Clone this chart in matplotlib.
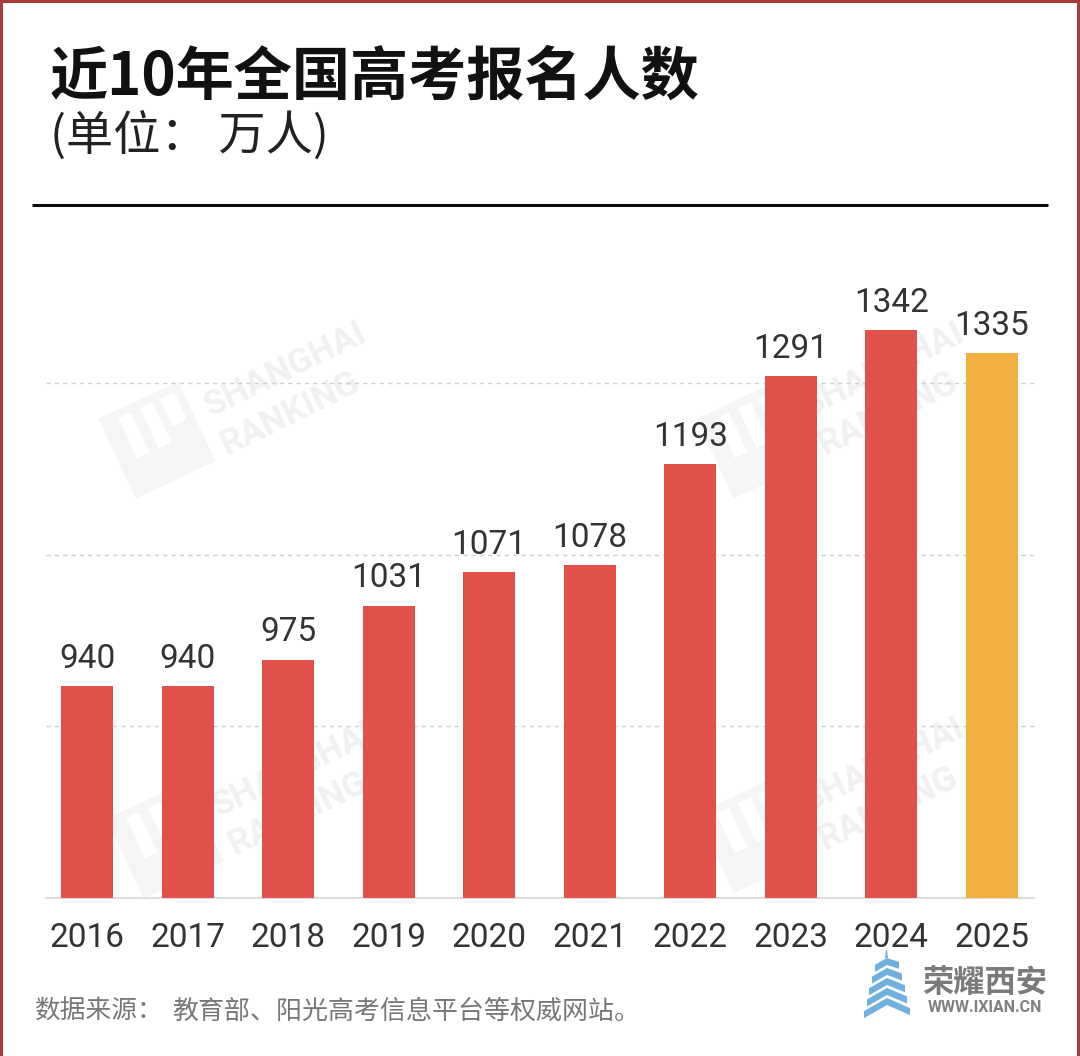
import matplotlib
matplotlib.use("Agg")
import matplotlib.pyplot as plt
from matplotlib.patches import Polygon, Rectangle
from matplotlib.transforms import Affine2D
import numpy as np

years = ["2016","2017","2018","2019","2020","2021","2022","2023","2024","2025"]
value_labels = ["940","940","975","1031","1071","1078","1193","1291","1342","1335"]
# drawn heights (the 2025 bar is drawn lower than its label)
bar_heights = [940,940,970,1031,1069,1077,1191,1290,1342,1316]
grid_values = [895,1088,1282]
bar_colors = ["#E2504A"]*9 + ["#F2B040"]

W,H = 1080,1056
CJK = ['Noto Sans CJK SC','DejaVu Sans']
NUM = ['Roboto','DejaVu Sans']
fig = plt.figure(figsize=(W/100,H/100),dpi=100,facecolor='white')

def px(x,y): return (x/W, 1-y/H)

ax = fig.add_axes([46/W,1-898/H,(1034-46)/W,(898-250)/H])
ax.set_xlim(-0.408,9.42); ax.set_ylim(701,1432.7)
ax.patch.set_alpha(0)
for s in ['top','left','right']: ax.spines[s].set_visible(False)
ax.spines['bottom'].set_color('#DDDDDD'); ax.spines['bottom'].set_linewidth(1.5)
x = np.arange(len(years))
ax.bar(x,bar_heights,width=52/100.55,bottom=0,color=bar_colors,zorder=3)
ax.set_yticks(grid_values); ax.tick_params(axis='y',length=0,labelleft=False)
ax.yaxis.grid(True,color='#CFCFCF',linestyle=(0,(3,3)),linewidth=1,zorder=1)
ax.set_xticks(x); ax.set_xticklabels(years,fontsize=24,family=NUM,color='#333333')
ax.tick_params(axis='x',length=0,pad=17.5)
for xi,h,l in zip(x,bar_heights,value_labels):
    ax.annotate(l,(xi,h),xytext=(0,13.3),textcoords='offset points',ha='center',va='baseline',
                fontsize=24,family=NUM,color='#333333',zorder=4)

fig.text(*px(50,95),"近10年全国高考报名人数",fontsize=41.9,fontweight='bold',family=CJK,color='#111111',va='baseline')
fig.text(*px(50,150),"(单位： 万人)",fontsize=34,family=CJK,color='#222222',va='baseline')
fig.add_artist(plt.Line2D([32/W,1048/W],[1-205/H,1-205/H],color='#0A0A0A',lw=2.2,solid_capstyle='butt'))
fig.text(*px(34,1019),"数据来源：",fontsize=18.5,family=CJK,color='#777777',va='baseline')
fig.text(*px(172,1019),"教育部、阳光高考信息平台等权威网站。",fontsize=18.7,family=CJK,color='#777777',va='baseline')

# border
fig.add_artist(Rectangle((0,0),2.5/W,1,transform=fig.transFigure,color='#A83A38',lw=0))
fig.add_artist(Rectangle((0,1-2.5/H),1,2.5/H,transform=fig.transFigure,color='#A83A38',lw=0))
fig.add_artist(Rectangle((1-3/W,0),3/W,1,transform=fig.transFigure,color='#A83A38',lw=0))

# watermarks (under the axes, whose background is transparent)
wm = '#9A9A9A'
def watermark(cx,cy):
    tr = Affine2D().rotate_deg_around(cx,H-cy,25)
    t = tr+Affine2D().scale(1/W,1/H)+fig.transFigure
    s = 44
    fig.add_artist(Rectangle((cx-s,H-cy-s),2*s,2*s,transform=t,fc='#F5F5F5',ec='none',zorder=-3))
    for dx in (-26,-2):
        fig.add_artist(Rectangle((cx+dx,H-cy-8),14,44,transform=t,fc='white',ec='none',zorder=-2))
    fig.add_artist(Rectangle((cx+20,H-cy+6),16,30,transform=t,fc='white',ec='none',zorder=-2))
    fig.text(*px(cx+50,cy-32),"SHANGHAI",fontsize=25,family=NUM,color='#F1F1F1',rotation=26,
             rotation_mode='anchor',va='center',zorder=-2,fontweight='bold')
    fig.text(*px(cx+66,cy+6),"RANKING",fontsize=25,family=NUM,color='#F1F1F1',rotation=26,
             rotation_mode='anchor',va='center',zorder=-2,fontweight='bold')
for c in [(157,440),(755,440),(165,840),(755,835)]:
    watermark(*c)

# site logo
blue = '#6FB0DE'
for cy,hw in [(1010,23),(1000,20),(990,18),(980,15),(970,12)]:
    cx = 887
    rise = 0.57*hw
    pts = [(cx-hw,cy-5+rise),(cx,cy-5),(cx+hw,cy-5+rise-3),(cx+hw,cy-12+rise-3),(cx,cy-12),(cx-hw,cy-12+rise)]
    fig.add_artist(Polygon([px(*p) for p in pts],closed=True,transform=fig.transFigure,fc=blue,ec='none'))
fig.add_artist(Polygon([px(885,958),px(888,958),px(887,950),px(886,950)],closed=True,transform=fig.transFigure,fc=blue,ec='none'))
fig.text(*px(985,983),"荣耀西安",fontsize=22.5,family=CJK,fontweight='bold',color='#7A7A7A',ha='center',va='center')
fig.text(*px(985,1008),"WWW.IXIAN.CN",fontsize=11.5,family=NUM,fontweight='bold',color='#808080',ha='center',va='center')

fig.savefig('out.png',dpi=100)
